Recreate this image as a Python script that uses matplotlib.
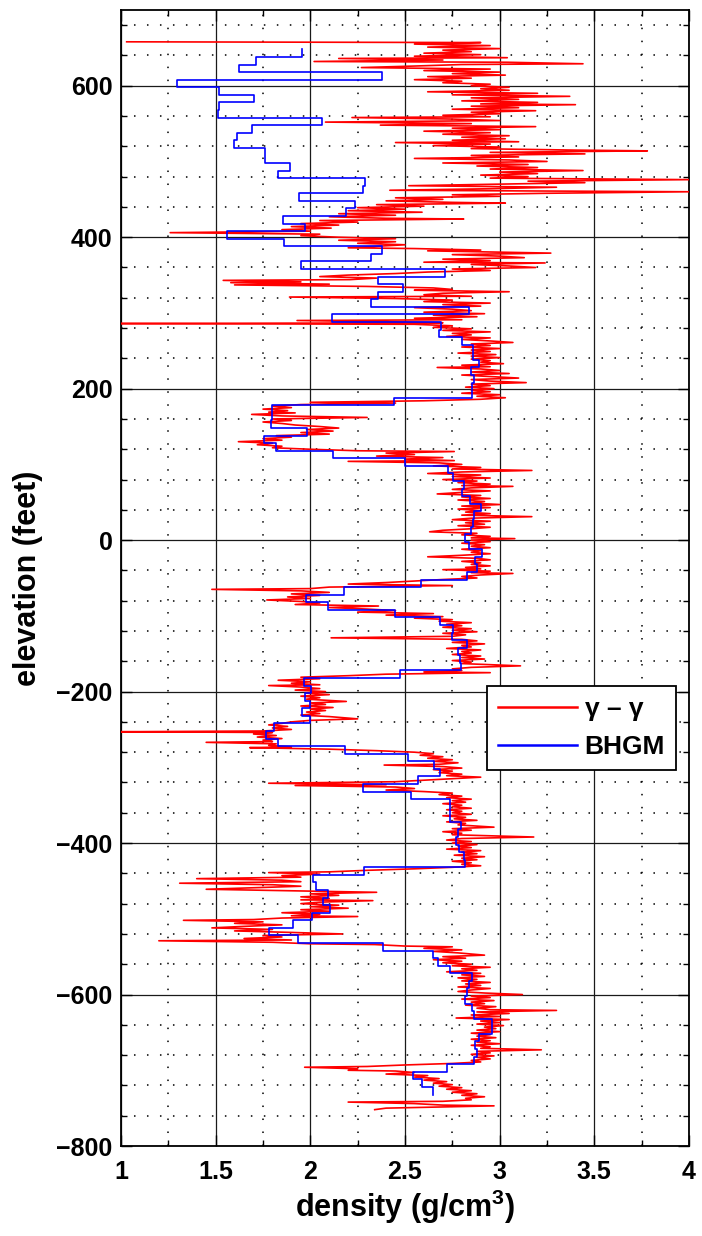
import numpy as np
import matplotlib
matplotlib.use("Agg")
import matplotlib.pyplot as plt
from matplotlib.ticker import MultipleLocator

# ---------------- data ----------------
# gamma-gamma density log: elevation (ft) and density (g/cm^3)
gg_elev = [
    658, 657, 655, 653, 651, 649, 647, 645, 643, 641, 639, 637, 636, 634, 632, 631, 629, 628, 626, 624,
    622, 620, 618, 616, 614, 612, 610, 608, 606, 604, 602, 600, 598, 596, 594, 592, 590, 588, 586, 584,
    582, 580, 578, 576, 575, 573, 571, 569, 567, 565, 563, 561, 559, 558, 556, 554, 552, 550, 548, 546,
    544, 542, 540, 538, 536, 534, 532, 530, 528, 526, 525, 523, 521, 519, 517, 515, 514, 512, 510, 508,
    506, 504, 502, 500, 498, 496, 494, 492, 490, 488, 486, 484, 482, 480, 478, 476, 474, 472, 470, 468,
    466, 464, 462, 460, 458, 456, 454, 452, 450, 448, 446, 445, 443, 441, 439, 437, 435, 433, 431, 429,
    427, 425, 424, 422, 420, 418, 416, 414, 412, 410, 408, 406, 404, 402, 400, 398, 396, 394, 392, 390,
    388, 386, 385, 383, 382, 380, 379, 377, 375, 373, 371, 369, 367, 366, 364, 362, 360, 358, 356, 354,
    352, 350, 348, 346, 344, 343, 341, 340, 338, 337, 335, 333, 331, 330, 328, 326, 324, 322, 321, 319,
    317, 315, 313, 311, 309, 307, 305, 303, 301, 299, 297, 295, 293, 291, 290, 288, 287, 286, 285, 283,
    281, 279, 277, 275, 273, 271, 269, 267, 265, 263, 261, 259, 257, 255, 253, 251, 249, 247, 245, 243,
    241, 239, 237, 235, 233, 231, 229, 228, 226, 224, 222, 220, 218, 216, 214, 212, 210, 208, 206, 204,
    202, 200, 198, 196, 194, 192, 190, 188, 186, 184, 182, 181, 179, 177, 175, 173, 171, 169, 168, 166,
    164, 162, 160, 158, 156, 154, 152, 150, 148, 146, 144, 142, 140, 138, 136, 134, 132, 130, 128, 126,
    124, 122, 120, 118, 117, 115, 113, 111, 109, 107, 105, 104, 102, 100, 98, 96, 94, 92, 90, 88,
    86, 84, 82, 80, 78, 76, 74, 72, 71, 69, 67, 65, 63, 61, 59, 57, 55, 53, 51, 49,
    47, 45, 43, 41, 39, 37, 35, 33, 31, 29, 27, 25, 23, 21, 19, 17, 15, 13, 11, 9,
    7, 5, 3, 2, 0, -2, -4, -6, -8, -10, -12, -14, -16, -18, -20, -22, -24, -26, -28, -30,
    -32, -34, -36, -38, -39, -41, -43, -44, -46, -48, -50, -52, -54, -56, -58, -60, -62, -64, -65, -67,
    -69, -71, -73, -75, -77, -79, -81, -83, -85, -87, -89, -91, -93, -95, -97, -99, -101, -103, -105, -107,
    -109, -111, -113, -115, -117, -119, -121, -123, -125, -127, -129, -131, -133, -135, -137, -139, -141, -143, -145, -147,
    -149, -151, -153, -155, -157, -159, -161, -163, -166, -168, -170, -172, -174, -175, -177, -179, -181, -183, -185, -187,
    -189, -191, -192, -194, -196, -198, -200, -202, -204, -206, -208, -210, -213, -215, -217, -219, -221, -223, -225, -227,
    -229, -231, -233, -236, -238, -240, -242, -244, -246, -248, -250, -252, -253, -254, -256, -258, -260, -262, -264, -266,
    -267, -269, -271, -273, -274, -276, -278, -280, -282, -284, -286, -288, -290, -292, -294, -296, -297, -299, -301, -303,
    -305, -307, -309, -311, -313, -315, -317, -319, -321, -323, -324, -326, -328, -330, -332, -334, -336, -338, -340, -342,
    -344, -346, -348, -350, -352, -354, -356, -358, -360, -362, -364, -366, -368, -370, -372, -374, -376, -379, -381, -383,
    -385, -387, -389, -392, -394, -396, -398, -400, -402, -404, -406, -408, -410, -412, -414, -416, -418, -420, -422, -424,
    -426, -428, -430, -432, -434, -436, -438, -439, -441, -443, -445, -447, -449, -451, -453, -455, -457, -459, -461, -463,
    -465, -467, -469, -471, -473, -475, -476, -478, -480, -482, -484, -486, -488, -490, -492, -494, -496, -497, -499, -501,
    -502, -504, -506, -508, -510, -512, -514, -516, -518, -520, -522, -524, -526, -528, -529, -531, -533, -534, -536, -537,
    -539, -541, -543, -545, -548, -550, -552, -554, -556, -558, -560, -562, -564, -566, -568, -570, -572, -574, -576, -578,
    -580, -582, -584, -586, -588, -590, -592, -594, -596, -598, -600, -602, -604, -606, -608, -610, -612, -614, -616, -618,
    -620, -621, -623, -625, -627, -629, -631, -633, -635, -637, -639, -641, -643, -645, -647, -649, -651, -653, -655, -657,
    -659, -661, -663, -665, -667, -669, -671, -673, -675, -677, -679, -681, -683, -685, -687, -689, -691, -693, -695, -696,
    -698, -700, -701, -703, -705, -707, -709, -711, -713, -715, -717, -719, -721, -723, -725, -727, -729, -731, -733, -735,
    -737, -739, -741, -742, -744, -746, -747, -749, -750, -752,
]
gg_density = [
    1.03, 2.90, 2.55, 2.95, 2.62, 3.00, 2.70, 2.85, 2.60, 2.90, 2.55, 3.04, 2.15, 2.70, 2.02, 3.04, 3.44, 2.80, 2.55, 2.27,
    2.95, 2.60, 3.00, 2.75, 3.03, 2.62, 2.85, 2.55, 2.80, 2.70, 2.95, 2.85, 3.05, 2.90, 3.05, 2.62, 3.20, 2.75, 3.37, 2.85,
    3.10, 2.80, 3.20, 2.90, 3.40, 2.85, 3.10, 2.75, 3.19, 2.85, 3.00, 2.70, 2.95, 2.22, 2.75, 3.00, 2.08, 2.85, 2.37, 3.19,
    2.75, 3.00, 2.60, 2.95, 2.70, 3.05, 2.80, 3.03, 2.75, 3.10, 2.45, 2.95, 2.65, 3.00, 2.85, 3.40, 3.78, 2.95, 3.45, 2.85,
    3.10, 2.55, 3.05, 3.25, 2.70, 3.15, 2.88, 3.20, 2.95, 3.44, 3.00, 3.20, 2.90, 3.15, 2.95, 4.00, 3.15, 3.45, 3.00, 2.52,
    3.30, 2.95, 2.42, 4.00, 3.25, 2.75, 3.00, 2.45, 2.70, 2.40, 2.75, 3.03, 2.35, 2.60, 2.25, 2.50, 2.20, 2.59, 2.15, 2.45,
    2.10, 2.40, 2.81, 2.05, 2.25, 1.95, 2.15, 1.90, 2.11, 1.85, 2.00, 1.26, 2.05, 1.95, 2.15, 2.45, 2.15, 2.45, 2.25, 2.50,
    2.35, 2.20, 2.55, 2.90, 2.62, 3.05, 3.27, 2.75, 3.00, 3.13, 2.70, 2.95, 2.60, 3.24, 2.85, 3.05, 3.19, 2.75, 2.95, 2.62,
    2.45, 2.20, 2.05, 2.35, 2.21, 1.54, 1.95, 1.58, 2.10, 1.60, 2.30, 2.65, 2.75, 2.55, 3.05, 2.70, 2.60, 2.85, 1.89, 2.45,
    2.75, 2.60, 2.95, 2.70, 2.90, 2.55, 2.75, 2.85, 2.60, 2.92, 2.65, 2.88, 2.55, 2.80, 1.93, 2.50, 2.70, 1.00, 2.55, 2.75,
    2.65, 2.85, 2.70, 2.95, 2.75, 2.85, 2.72, 2.95, 2.80, 2.95, 3.07, 2.85, 2.95, 2.80, 3.00, 2.85, 2.95, 2.78, 2.98, 2.85,
    3.00, 2.85, 2.95, 2.90, 3.02, 2.80, 2.95, 2.67, 2.90, 3.00, 2.85, 3.05, 2.80, 2.95, 3.10, 2.85, 2.95, 3.14, 2.85, 2.95,
    2.82, 2.97, 2.85, 2.95, 2.80, 3.00, 2.88, 3.03, 2.90, 2.60, 2.00, 2.45, 1.95, 1.80, 1.90, 1.75, 1.88, 1.78, 1.92, 1.69,
    1.85, 2.30, 1.80, 1.90, 1.75, 1.85, 1.92, 2.05, 2.15, 1.98, 2.12, 1.95, 2.10, 1.82, 1.90, 1.75, 1.85, 1.62, 1.80, 1.72,
    1.85, 1.80, 2.00, 2.25, 2.76, 2.40, 2.55, 2.35, 2.70, 2.50, 2.76, 2.20, 2.68, 2.80, 2.65, 2.90, 2.75, 3.17, 2.80, 2.62,
    2.90, 2.75, 2.95, 2.70, 2.88, 2.78, 2.95, 2.80, 3.07, 2.85, 2.75, 2.95, 2.80, 2.67, 2.90, 2.80, 2.95, 2.78, 2.92, 2.85,
    3.00, 2.80, 2.95, 2.78, 2.90, 2.82, 2.95, 2.80, 3.17, 2.85, 2.75, 2.95, 2.82, 2.92, 2.78, 2.95, 2.85, 2.70, 2.63, 2.88,
    2.80, 2.95, 2.85, 3.08, 2.85, 2.95, 2.80, 2.92, 2.85, 2.95, 2.80, 2.90, 2.85, 2.95, 2.80, 2.62, 2.88, 2.95, 2.80, 2.90,
    2.85, 2.95, 2.82, 2.90, 2.70, 2.95, 2.85, 3.07, 2.90, 2.80, 2.88, 2.70, 2.55, 2.40, 2.20, 2.75, 2.10, 2.00, 1.48, 1.95,
    2.10, 1.90, 2.05, 1.88, 2.00, 1.77, 1.95, 2.05, 1.92, 2.36, 2.10, 2.30, 2.45, 2.25, 2.65, 2.40, 2.70, 2.55, 2.75, 2.68,
    2.85, 2.72, 2.80, 2.70, 2.85, 2.75, 2.88, 2.70, 2.82, 2.75, 2.11, 2.80, 2.88, 2.75, 2.92, 2.80, 2.85, 2.72, 2.90, 2.80,
    2.85, 2.75, 2.90, 2.80, 2.92, 2.75, 2.85, 2.80, 3.11, 2.85, 2.75, 2.80, 2.60, 2.95, 2.40, 2.20, 1.95, 2.05, 1.83, 2.00,
    1.90, 2.05, 1.78, 1.95, 2.05, 1.92, 2.08, 1.98, 2.10, 1.95, 2.05, 1.98, 2.19, 2.00, 2.08, 1.95, 2.12, 2.00, 2.08, 1.98,
    2.05, 1.95, 2.10, 2.25, 2.00, 1.90, 1.85, 1.78, 1.88, 1.80, 1.90, 1.75, 1.00, 1.80, 1.70, 1.82, 1.72, 1.85, 1.75, 1.80,
    1.45, 1.82, 1.78, 1.90, 1.68, 2.10, 2.35, 2.55, 2.65, 2.58, 2.70, 2.62, 2.75, 2.65, 2.78, 2.68, 2.39, 2.70, 2.80, 2.65,
    2.75, 2.68, 2.80, 2.72, 2.90, 2.75, 2.60, 2.45, 1.78, 2.40, 1.92, 2.45, 2.55, 2.40, 2.60, 2.75, 2.68, 2.80, 2.72, 2.85,
    2.75, 2.82, 2.70, 2.80, 2.75, 2.85, 2.72, 2.80, 2.75, 2.85, 2.70, 2.82, 2.76, 2.88, 2.72, 2.82, 2.78, 2.97, 2.75, 2.85,
    2.70, 2.80, 2.75, 3.18, 2.80, 2.72, 2.85, 2.75, 2.88, 2.78, 2.85, 2.72, 2.90, 2.80, 2.88, 2.76, 2.92, 2.80, 2.88, 2.75,
    2.85, 2.80, 2.90, 2.75, 2.55, 2.30, 2.10, 1.78, 2.05, 1.85, 1.95, 1.40, 1.85, 1.95, 1.31, 1.80, 1.95, 1.70, 1.45, 1.90,
    2.35, 2.00, 2.15, 1.95, 2.10, 1.95, 2.33, 2.05, 1.95, 2.15, 2.00, 2.20, 1.95, 2.10, 1.85, 2.05, 1.90, 2.25, 1.85, 1.70,
    1.33, 1.75, 1.60, 1.85, 1.65, 1.48, 1.80, 1.60, 1.90, 2.17, 1.75, 1.85, 1.65, 1.90, 1.20, 1.80, 2.00, 2.34, 2.50, 2.75,
    2.60, 2.80, 2.65, 2.78, 2.92, 2.70, 2.82, 2.65, 2.80, 2.70, 2.85, 2.75, 2.95, 2.80, 2.88, 2.72, 2.90, 2.80, 2.92, 2.78,
    2.88, 2.80, 2.95, 2.82, 2.90, 2.78, 2.95, 2.85, 2.78, 2.92, 3.12, 2.85, 2.95, 2.80, 2.97, 2.85, 2.92, 2.82, 2.98, 2.88,
    2.95, 3.30, 2.88, 3.05, 2.85, 3.00, 2.77, 3.05, 2.90, 3.00, 2.88, 3.02, 2.92, 2.98, 2.88, 3.00, 2.85, 2.95, 2.88, 2.98,
    2.85, 2.95, 2.88, 3.00, 2.85, 2.95, 2.90, 3.22, 2.88, 2.95, 2.85, 2.97, 2.88, 2.95, 2.85, 2.90, 2.75, 2.50, 2.30, 1.97,
    2.25, 2.20, 2.45, 2.55, 2.40, 2.62, 2.55, 2.68, 2.60, 2.72, 2.65, 2.75, 2.68, 2.80, 2.72, 2.85, 2.75, 2.88, 2.80, 2.92,
    2.82, 2.85, 2.70, 2.20, 2.55, 2.70, 2.97, 2.60, 2.40, 2.34,
]

# BHGM density: 10-ft intervals starting at the top elevation below
bhgm_top_elev = 648
bhgm_interval = 10
bhgm_density = [
    1.956, 1.714, 1.623, 2.381, 1.294, 1.520, 1.704, 1.516, 1.510, 2.060,
    1.694, 1.611, 1.595, 1.758, 1.758, 1.893, 1.830, 2.290, 2.280, 1.940,
    2.234, 2.190, 1.855, 1.972, 1.560, 1.860, 2.380, 2.320, 1.950, 2.710,
    2.360, 2.490, 2.360, 2.320, 2.840, 2.115, 2.690, 2.680, 2.800, 2.860,
    2.860, 2.890, 2.850, 2.865, 2.855, 2.855, 2.440, 1.800, 1.800, 1.790,
    1.980, 1.754, 1.820, 2.120, 2.500, 2.726, 2.754, 2.813, 2.800, 2.845,
    2.899, 2.865, 2.859, 2.849, 2.819, 2.839, 2.909, 2.869, 2.879, 2.825,
    2.583, 2.179, 1.976, 2.091, 2.448, 2.683, 2.756, 2.746, 2.829, 2.782,
    2.790, 2.794, 2.472, 1.966, 2.006, 1.970, 2.000, 1.956, 1.996, 1.810,
    1.764, 1.830, 2.185, 2.518, 2.651, 2.683, 2.571, 2.278, 2.530, 2.736,
    2.736, 2.736, 2.796, 2.780, 2.770, 2.786, 2.810, 2.815, 2.286, 2.016,
    2.030, 2.095, 2.067, 2.105, 2.008, 1.907, 1.784, 1.933, 2.385, 2.647,
    2.675, 2.740, 2.853, 2.839, 2.825, 2.817, 2.853, 2.865, 2.958, 2.958,
    2.889, 2.869, 2.879, 2.865, 2.720, 2.542, 2.590, 2.650,
]

x_ticks = [1, 1.5, 2, 2.5, 3, 3.5, 4]
x_tick_labels = ["1", "1.5", "2", "2.5", "3", "3.5", "4"]
y_ticks = [-800, -600, -400, -200, 0, 200, 400, 600]
legend_labels = ["\u03b3 \u2013 \u03b3", "BHGM"]

# ---------------- figure ----------------
FONT = ["Liberation Sans", "DejaVu Sans"]
plt.rcParams["font.family"] = FONT
plt.rcParams["font.weight"] = "bold"
plt.rcParams["mathtext.fontset"] = "custom"
plt.rcParams["mathtext.bf"] = "Liberation Sans:bold"
plt.rcParams["mathtext.rm"] = "Liberation Sans:bold"

fig = plt.figure(figsize=(7.02, 12.36), dpi=100)
ax = fig.add_axes([121 / 702, 1 - 1146 / 1236, 568 / 702, 1136 / 1236])

ax.plot(gg_density, gg_elev, color="#ff0000", lw=1.2, label=legend_labels[0], zorder=3)

n = len(bhgm_density)
b_elev = bhgm_top_elev - bhgm_interval * np.arange(n + 1)
b_dens = np.append(bhgm_density, bhgm_density[-1])
ax.plot(b_dens, b_elev, color="#0000ff", lw=1.2, drawstyle="steps-pre",
        label=legend_labels[1], zorder=4)

ax.set_xlim(1, 4)
ax.set_ylim(-800, 700)
ax.set_xticks(x_ticks)
ax.set_xticklabels(x_tick_labels)
ax.set_yticks(y_ticks)
ax.xaxis.set_minor_locator(MultipleLocator(0.25))
ax.yaxis.set_minor_locator(MultipleLocator(40))

ax.grid(True, which="major", color="0.1", lw=0.9, ls="-", zorder=1)
ax.grid(True, which="minor", color="black", lw=1.1, ls=(0, (1, 7.5)), zorder=1)
ax.set_axisbelow(True)

ax.tick_params(which="both", direction="in", top=True, right=True)
ax.tick_params(which="major", length=8, width=1.0, labelsize=18)
ax.tick_params(axis="x", which="major", pad=10)
ax.tick_params(axis="y", which="major", pad=6)
ax.tick_params(which="minor", length=4, width=1.0)
for s in ax.spines.values():
    s.set_linewidth(1.3)
for lab in ax.get_xticklabels() + ax.get_yticklabels():
    lab.set_fontweight("bold")

ax.set_xlabel("density (g/cm$^{\\mathbf{3}}$)", fontsize=22, fontweight="bold", labelpad=3)
ax.set_ylabel("elevation (feet)", fontsize=22, fontweight="bold", labelpad=10)

leg = ax.legend(loc="upper left", bbox_to_anchor=(0.6444, 0.4049), borderaxespad=0,
                frameon=True, fancybox=False, edgecolor="black", framealpha=1,
                handlelength=3.0, handletextpad=0.28, borderpad=0.42, labelspacing=0.52,
                prop={"weight": "bold", "size": 19})
leg.get_frame().set_linewidth(1.3)
for h in leg.get_lines():
    h.set_linewidth(1.8)

fig.savefig("out.png", dpi=100)
